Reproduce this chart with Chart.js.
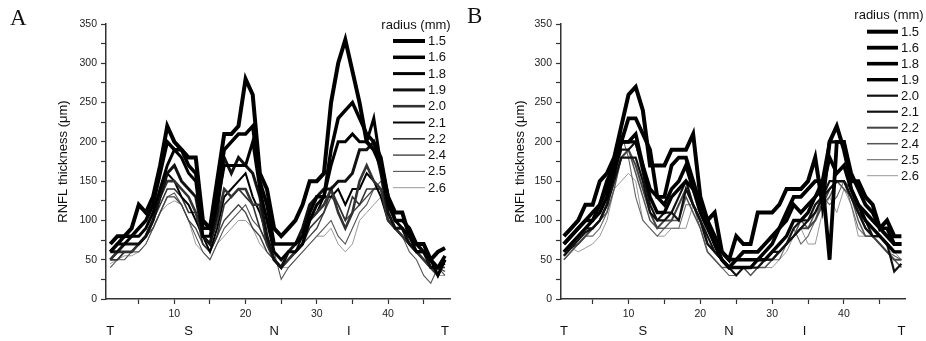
<!DOCTYPE html>
<html>
<head>
<meta charset="utf-8">
<script src="https://cdn.jsdelivr.net/npm/chart.js"></script>
<style>
  body { margin: 0; background: #fff; }
  #wrap { position: relative; width: 926px; height: 341px; }
  canvas { position: absolute; top: 0; }
</style>
</head>
<body>
<div id="wrap">
  <canvas id="chartA" width="463" height="341" style="left:0"></canvas>
  <canvas id="chartB" width="463" height="341" style="left:463px"></canvas>
</div>
<script>
// scan positions around the circle (1..48) and quadrant labels
const POSITIONS = [1,2,3,4,5,6,7,8,9,10,11,12,13,14,15,16,17,18,19,20,21,22,23,24,
                   25,26,27,28,29,30,31,32,33,34,35,36,37,38,39,40,41,42,43,44,45,46,47,48];
const QUADRANT_POS = [1, 12, 24, 34.5, 48];
const QUADRANT_LABELS = ['T', 'S', 'N', 'I', 'T'];
const RADII = ['1.5', '1.6', '1.8', '1.9', '2.0', '2.1', '2.2', '2.4', '2.5', '2.6'];
const Y_TICKS = [0, 50, 100, 150, 200, 250, 300, 350];

// Panel A – RNFL thickness (um) per radius
const A_15 = [70,80,80,90,120,110,130,170,220,200,190,180,180,100,90,150,210,210,220,280,260,160,140,90,80,90,100,120,150,150,160,250,300,330,290,250,200,190,170,130,110,110,80,70,70,50,60,65];
const A_16 = [60,70,80,80,90,100,120,160,200,190,190,170,160,90,90,130,190,200,210,210,220,150,120,70,70,70,70,80,110,130,130,190,230,240,250,230,210,200,180,130,100,100,90,70,60,50,40,55];
const A_18 = [60,70,70,80,80,90,110,140,170,190,180,160,150,80,80,120,170,170,170,170,200,140,100,60,50,60,60,70,100,120,130,170,200,200,210,200,200,230,170,120,100,90,80,60,60,50,30,50];
const A_19 = [60,60,70,70,70,80,100,130,160,170,150,140,130,80,70,110,180,160,180,170,160,130,80,50,40,60,70,90,120,130,140,140,150,150,160,190,190,200,160,110,90,90,70,60,60,40,40,50];
const A_20 = [50,60,60,60,70,80,100,130,150,150,140,130,110,80,70,100,140,130,140,140,120,120,70,50,40,50,60,70,100,110,120,140,110,90,110,150,170,150,140,100,90,80,70,60,50,40,30,50];
const A_21 = [50,60,70,70,70,80,100,130,160,150,130,120,100,80,60,90,130,140,150,160,130,110,80,50,40,50,60,80,100,110,130,130,140,120,140,140,160,150,130,100,90,80,70,60,50,40,40,45];
const A_22 = [50,50,60,60,70,80,100,120,140,140,130,110,110,70,60,80,120,130,140,130,120,90,70,50,40,50,60,70,90,100,110,140,120,100,130,120,140,140,140,110,90,80,70,60,50,40,40,40];
const A_24 = [50,50,60,60,70,80,90,110,130,130,120,100,90,70,60,80,100,110,120,110,90,80,60,50,40,50,60,70,80,90,110,130,120,100,110,120,130,140,140,110,90,80,70,60,50,40,40,35];
const A_25 = [40,50,50,60,60,70,90,110,130,135,120,100,80,60,50,70,90,100,110,120,100,90,70,60,25,40,50,60,70,80,90,100,80,70,90,110,120,140,150,110,90,80,60,50,30,20,40,30];
const A_26 = [45,50,55,55,60,70,90,110,120,125,120,100,70,60,50,70,80,90,100,100,90,70,60,50,40,40,50,60,70,80,80,90,70,60,70,100,110,120,130,100,90,80,70,60,50,40,30,30];

// Panel B – RNFL thickness (um) per radius
const B_15 = [80,90,100,120,120,150,160,180,220,260,270,240,170,170,170,190,190,190,210,130,100,110,60,50,80,70,70,110,110,110,120,140,140,140,150,180,120,200,220,190,150,150,130,120,90,100,80,80];
const B_16 = [70,80,90,100,110,120,150,170,200,230,230,210,190,130,130,170,180,180,150,120,100,80,60,50,50,60,60,60,70,80,90,110,130,130,140,150,150,50,200,200,160,140,120,110,90,80,70,70];
const B_18 = [70,80,90,100,100,120,140,170,200,200,210,170,140,130,120,140,150,170,140,120,100,70,50,40,50,50,50,50,60,70,90,100,120,110,120,130,140,180,160,170,140,120,110,100,90,90,70,70];
const B_19 = [60,70,80,90,100,110,130,160,200,200,200,170,130,110,110,130,140,150,140,110,90,70,50,40,40,40,40,50,50,60,70,80,100,100,110,130,150,200,200,200,140,120,100,90,80,70,60,60];
const B_20 = [60,70,80,90,90,100,120,160,190,190,200,160,120,100,100,110,130,150,120,100,80,60,50,40,30,40,40,50,50,60,60,70,90,100,100,120,130,150,150,150,130,110,100,80,80,70,60,60];
const B_21 = [55,65,75,85,90,100,120,150,180,180,180,150,110,100,110,110,100,140,120,100,70,60,50,40,40,40,40,40,50,50,60,70,80,90,100,110,130,140,150,150,130,110,90,80,80,70,35,45];
const B_22 = [55,65,70,80,90,100,120,150,180,190,170,140,110,90,100,100,120,140,120,100,70,60,50,40,40,40,40,50,50,50,60,70,80,90,90,100,120,140,150,150,140,110,90,80,70,60,50,50];
const B_24 = [50,60,70,80,90,100,110,140,180,190,160,130,100,90,90,100,100,130,110,90,60,50,40,40,40,40,30,40,40,50,60,70,80,100,90,110,120,130,150,140,130,100,80,80,70,60,50,40];
const B_25 = [50,60,70,80,80,90,110,160,210,180,130,100,90,80,90,90,90,120,120,90,60,50,40,30,30,40,40,40,40,50,50,70,90,70,80,100,130,120,130,150,120,90,80,80,70,60,55,50];
const B_26 = [60,65,60,65,70,80,100,140,150,160,150,100,90,80,80,90,90,90,120,110,80,60,50,40,40,40,30,40,40,40,50,60,80,90,70,70,110,130,110,140,120,80,80,80,70,60,60,50];

const SERIES_A = [A_15, A_16, A_18, A_19, A_20, A_21, A_22, A_24, A_25, A_26];
const SERIES_B = [B_15, B_16, B_18, B_19, B_20, B_21, B_22, B_24, B_25, B_26];

// line styles (thicker / darker for the inner radii)
const WIDTHS_A = [4, 3.5, 3, 3, 2.6, 2, 1.6, 1.4, 1.1, 1];
const COLORS_A = ['#000', '#000', '#000', '#111', '#333', '#000', '#333', '#444', '#555', '#999'];
const WIDTHS_B = [4, 3.8, 3.6, 3.4, 2.2, 2.2, 2, 1.5, 1.1, 1];
const COLORS_B = ['#000', '#000', '#000', '#000', '#111', '#111', '#444', '#555', '#666', '#999'];

const FONT = "'Liberation Sans', Arial, sans-serif";

// draws the panel letter and the "radius (mm)" legend
const panelDecor = {
    id: 'panelDecor',
    afterDraw(chart, args, opts) {
        const ctx = chart.ctx;
        ctx.save();
        ctx.fillStyle = '#111';
        ctx.font = "23px 'Liberation Serif', 'Times New Roman', serif";
        ctx.textAlign = 'left';
        ctx.textBaseline = 'alphabetic';
        ctx.fillText(opts.letter, opts.letterX, opts.letterY);

        ctx.font = '13px ' + FONT;
        ctx.textAlign = 'center';
        ctx.textBaseline = 'middle';
        ctx.fillText('radius (mm)', opts.titleX, opts.titleY);

        ctx.textAlign = 'left';
        chart.data.datasets.forEach((ds, i) => {
            const y = opts.y0 + i * opts.dy;
            ctx.strokeStyle = ds.borderColor;
            ctx.lineWidth = ds.borderWidth;
            ctx.beginPath();
            ctx.moveTo(opts.lineX1, y);
            ctx.lineTo(opts.lineX2, y);
            ctx.stroke();
            ctx.fillStyle = '#111';
            ctx.fillText(ds.label, opts.lineX2 + 3, y + 0.5);
        });
        ctx.restore();
    }
};

function makePanel(canvasId, series, widths, colors, cfg) {
    const datasets = series.map((vals, i) => ({
        label: RADII[i],
        data: vals.map((v, j) => ({ x: POSITIONS[j], y: v })),
        borderColor: colors[i],
        borderWidth: widths[i],
        borderJoinStyle: 'miter',
        pointRadius: 0,
        tension: 0,
        fill: false
    }));

    return new Chart(document.getElementById(canvasId), {
        type: 'line',
        data: { datasets },
        options: {
            responsive: false,
            animation: false,
            devicePixelRatio: 1,
            layout: { padding: { left: cfg.padLeft, right: cfg.padRight, top: 24, bottom: 0 } },
            plugins: {
                legend: { display: false },
                tooltip: { enabled: false },
                panelDecor: cfg.decor
            },
            scales: {
                x: {
                    type: 'linear',
                    min: cfg.xMin,
                    max: cfg.xMax,
                    weight: 0,
                    afterBuildTicks: axis => {
                        axis.ticks = [5, 10, 15, 20, 25, 30, 35, 40, 45].map(v => ({ value: v }));
                    },
                    afterFit: axis => { axis.height = 22; },
                    ticks: {
                        autoSkip: false,
                        maxRotation: 0,
                        padding: 4,
                        color: '#222',
                        font: { family: FONT, size: 10.5 },
                        callback: v => (v % 10 === 0 ? String(v) : '')
                    },
                    grid: { drawOnChartArea: false, tickLength: 5, color: '#333', tickWidth: 1.2 },
                    border: { color: '#333', width: 1.5 }
                },
                quad: {
                    type: 'linear',
                    position: 'bottom',
                    min: cfg.xMin,
                    max: cfg.xMax,
                    weight: 1,
                    afterBuildTicks: axis => {
                        axis.ticks = QUADRANT_POS.map(v => ({ value: v }));
                    },
                    afterFit: axis => { axis.height = 20; },
                    ticks: {
                        autoSkip: false,
                        maxRotation: 0,
                        padding: 3,
                        color: '#111',
                        font: { family: FONT, size: 13 },
                        callback: (v, i) => QUADRANT_LABELS[i]
                    },
                    grid: { display: false, drawTicks: false, tickLength: 0 },
                    border: { display: false }
                },
                y: {
                    min: 0,
                    max: 350,
                    afterBuildTicks: axis => {
                        const t = [];
                        for (let k = 0; k < Y_TICKS.length; k++) {
                            t.push({ value: Y_TICKS[k] });
                            if (k < Y_TICKS.length - 1) t.push({ value: Y_TICKS[k] + 25 });
                        }
                        axis.ticks = t;
                    },
                    afterFit: axis => { axis.width = cfg.yWidth; },
                    title: {
                        display: true,
                        text: 'RNFL thickness (\u03bcm)',
                        color: '#111',
                        font: { family: FONT, size: 13 },
                        padding: 4
                    },
                    ticks: {
                        autoSkip: false,
                        padding: 4,
                        color: '#222',
                        font: { family: FONT, size: 10.5 },
                        callback: v => (Y_TICKS.includes(v) ? String(v) : '')
                    },
                    grid: { drawOnChartArea: false, tickLength: 5, color: '#333', tickWidth: 1.2 },
                    border: { color: '#333', width: 1.5 }
                }
            }
        },
        plugins: [panelDecor]
    });
}

makePanel('chartA', SERIES_A, WIDTHS_A, COLORS_A, {
    padLeft: 52, padRight: 13, yWidth: 54, xMin: 0.4, xMax: 48.7,
    decor: { letter: 'A', letterX: 10, letterY: 25, titleX: 416, titleY: 25,
             lineX1: 393, lineX2: 425, y0: 41, dy: 16.3 }
});

makePanel('chartB', SERIES_B, WIDTHS_B, COLORS_B, {
    padLeft: 46, padRight: 21, yWidth: 52, xMin: 0.6, xMax: 48.5,
    decor: { letter: 'B', letterX: 4, letterY: 23, titleX: 426, titleY: 15.5,
             lineX1: 404, lineX2: 435, y0: 31.7, dy: 16 }
});
</script>
</body>
</html>
